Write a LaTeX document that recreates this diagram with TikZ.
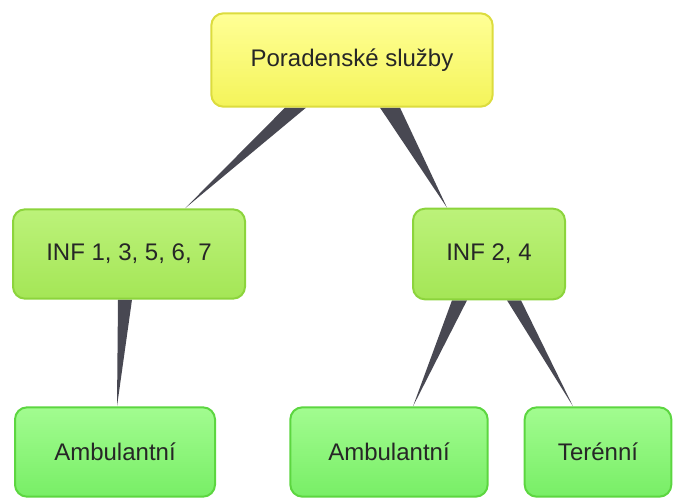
\documentclass[tikz,border=0pt]{standalone}
\usepackage{fontspec}
\setmainfont{Liberation Sans}
\usepackage{tikz}
\pgfdeclarelayer{bg}
\pgfsetlayers{bg,main}
\definecolor{yelfill}{HTML}{F4F45A}
\definecolor{yeltop}{HTML}{FFFF96}
\definecolor{yelrim}{HTML}{DCDC3E}
\definecolor{limefill}{HTML}{A4E656}
\definecolor{limetop}{HTML}{BCF27A}
\definecolor{limerim}{HTML}{8CD43C}
\definecolor{grnfill}{HTML}{78EE66}
\definecolor{grntop}{HTML}{A2FC90}
\definecolor{grnrim}{HTML}{5CD640}
\definecolor{wedgegray}{HTML}{484852}
\tikzset{
    every node/.style={rectangle, rounded corners=9pt, line width=1.5pt,
        text=black!85, font=\fontsize{18}{20}\selectfont, inner sep=0pt},
    rootbox/.style={draw=yelrim, top color=yeltop, bottom color=yelfill},
    midbox/.style={draw=limerim, top color=limetop, bottom color=limefill},
    leafbox/.style={draw=grnrim, top color=grntop, bottom color=grnfill},
    wedge/.style={fill=wedgegray, draw=none}
}

\begin{document}
\begin{tikzpicture}[x=0.75pt, y=-0.75pt]
    \useasboundingbox (0,0) rectangle (674,497);
    \node (root) [rootbox, minimum width=211pt, minimum height=70pt] at (352, 60) {Poradensk\'e slu\v{z}by};

    \node (inf1) [midbox, minimum width=174pt, minimum height=67pt] at (129, 254) {INF 1, 3, 5, 6, 7};
    \node (inf2) [midbox, minimum width=114pt, minimum height=68pt] at (489, 254) {INF 2, 4};

    \node (amb1) [leafbox, minimum width=150pt, minimum height=67pt] at (115, 452) {Ambulantn\'i};
    \node (amb2) [leafbox, minimum width=148pt, minimum height=67pt] at (389, 452) {Ambulantn\'i};
    \node (ter) [leafbox, minimum width=110pt, minimum height=67pt] at (598, 452) {Ter\'enn\'i};

    \begin{pgfonlayer}{bg}
        \fill[wedge] ([xshift=-67*0.75pt]root.south) -- ([xshift=-46*0.75pt]root.south) -- ([xshift=56*0.75pt]inf1.north) -- cycle;
        \fill[wedge] ([xshift=28*0.75pt]root.south) -- ([xshift=48*0.75pt]root.south) -- ([xshift=-42*0.75pt]inf2.north) -- cycle;

        \fill[wedge] ([xshift=-11*0.75pt]inf1.south) -- ([xshift=3*0.75pt]inf1.south) -- ([xshift=2*0.75pt]amb1.north) -- cycle;
        \fill[wedge] ([xshift=-37*0.75pt]inf2.south) -- ([xshift=-22*0.75pt]inf2.south) -- ([xshift=24*0.75pt]amb2.north) -- cycle;
        \fill[wedge] ([xshift=18*0.75pt]inf2.south) -- ([xshift=32*0.75pt]inf2.south) -- ([xshift=-25*0.75pt]ter.north) -- cycle;
    \end{pgfonlayer}
\end{tikzpicture}
\end{document}
